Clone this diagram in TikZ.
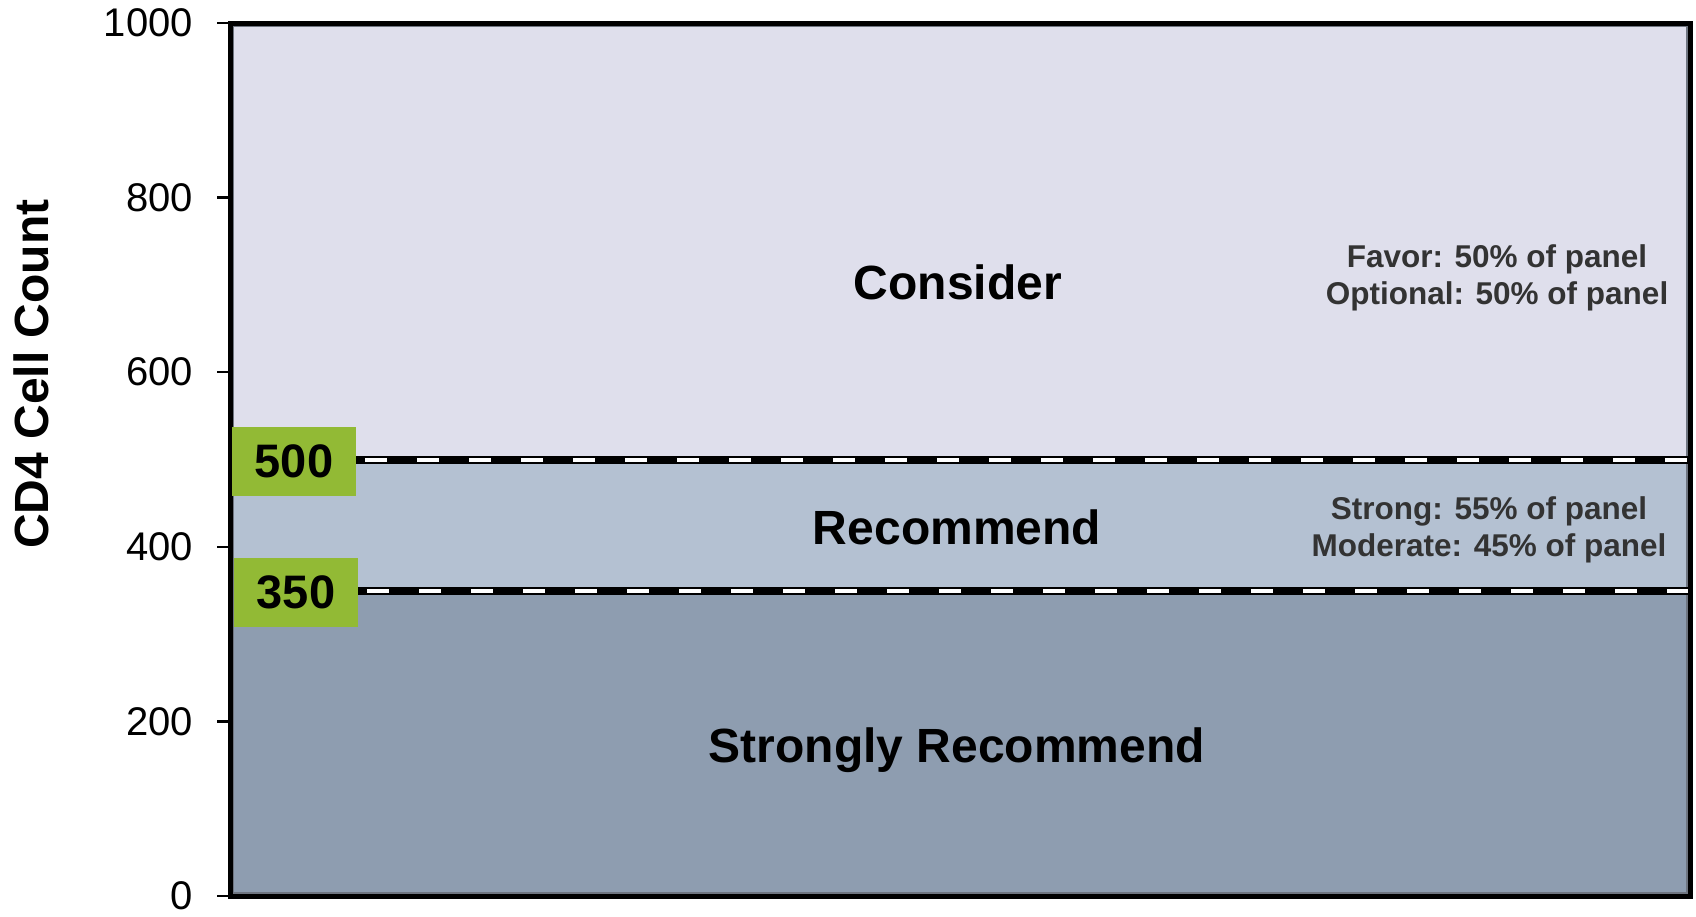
\documentclass[tikz,border=0pt]{standalone}
\usepackage{fontspec}
\setmainfont{Liberation Sans}
\definecolor{bandtop}{HTML}{DFDFEC}
\definecolor{bandmid}{HTML}{B4C1D2}
\definecolor{bandlow}{HTML}{8E9DB0}
\definecolor{badge}{HTML}{92BA35}
\definecolor{notegray}{HTML}{333333}
\definecolor{edgegray}{HTML}{6F7580}
\begin{document}
\begin{tikzpicture}[x=1pt,y=-1pt,
  ticklabel/.style={anchor=east,inner sep=0pt,font=\fontsize{40}{48}\selectfont},
  zonelabel/.style={inner sep=0pt,font=\bfseries\fontsize{48}{58}\selectfont},
  note/.style={inner sep=0pt,align=center,text=notegray,font=\bfseries\fontsize{31.5}{37}\selectfont},
  badgebox/.style={fill=badge,minimum width=124pt,minimum height=69pt,inner sep=0pt,font=\bfseries\fontsize{47}{56}\selectfont},
  threshold/.style={line width=8pt,black},
  thresholddash/.style={line width=3.5pt,white,dash pattern=on 22pt off 30pt,dash phase=43pt}]
\useasboundingbox (0,0) rectangle (1696,916);
% bands
\fill[bandtop] (230,23) rectangle (1690,460);
\fill[bandmid] (230,460) rectangle (1690,591);
\fill[bandlow] (230,591) rectangle (1690,896);
\draw[edgegray,line width=1.5pt] (233,26) rectangle (1687,893);
% frame
\draw[black,line width=5pt] (230,23) -- (1690,23) -- (1690,896) -- (230,896) -- cycle;
% ticks
\foreach \v in {0,200,400,600,800,1000}{
  \pgfmathsetmacro\yy{896-0.873*\v}
  \draw[black,line width=2.5pt] (217,\yy) -- (230,\yy);
  \node[ticklabel] (t\v) at (193,\yy) {\v};
}
% axis title
\node[rotate=90,inner sep=0pt,font=\bfseries\fontsize{48}{57}\selectfont] (ytitle) at (31,374) {CD4 Cell Count};
% badges
\node[badgebox] (b500) at (294,461.5) {500};
\node[badgebox] (b350) at (296,592.5) {350};
\coordinate (e500) at (1688,460);
\coordinate (e350) at (1688,591);
% threshold lines
\draw[threshold] (b500.east |- e500) -- (e500);
\draw[thresholddash] (b500.east |- e500) -- (e500);
\draw[threshold] (b350.east |- e350) -- (e350);
\draw[thresholddash] (b350.east |- e350) -- (e350);
% zone labels
\node[zonelabel] (consider) at (958,282) {Consider};
\node[zonelabel] (recommend) at (957,527) {Recommend};
\node[zonelabel] (strong) at (957,750) {Strongly Recommend};
% notes
\node[note] (n1) at (1497,277.5) {Favor: 50\% of panel\\Optional: 50\% of panel};
\node[note] (n2) at (1489,529.5) {Strong: 55\% of panel\\Moderate: 45\% of panel};
\end{tikzpicture}
\end{document}
